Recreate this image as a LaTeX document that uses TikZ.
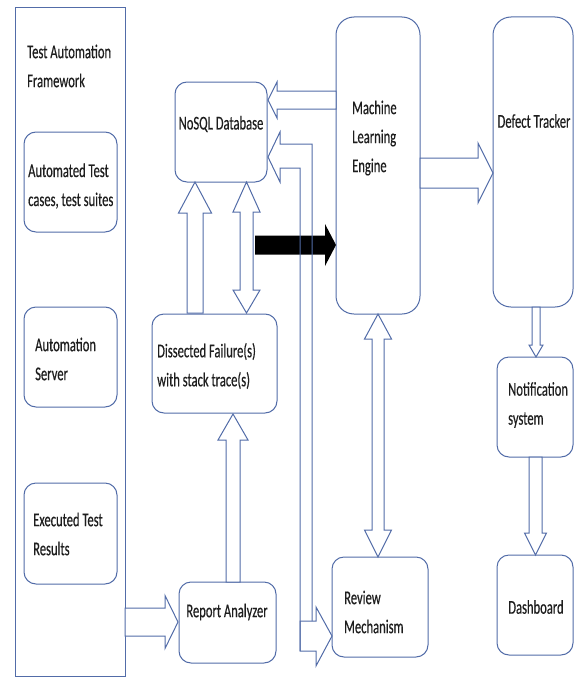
\documentclass[tikz,border=0pt]{standalone}
\usepackage{fontspec}
\setmainfont{Carlito}[FakeStretch=0.645, FakeBold=0.4]
\definecolor{ln}{RGB}{82,108,168}
\definecolor{tx}{RGB}{30,30,30}
\newcommand\blkH[6]{% tail x, base x, tip x, cy, shaft half, head half
  \draw[barrow] (#1,#4-#5) -- (#2,#4-#5) -- (#2,#4-#6) -- (#3,#4) -- (#2,#4+#6) -- (#2,#4+#5) -- (#1,#4+#5) -- cycle;}
\newcommand\blkV[6]{% tail y, base y, tip y, cx, shaft half, head half
  \draw[barrow] (#4-#5,#1) -- (#4-#5,#2) -- (#4-#6,#2) -- (#4,#3) -- (#4+#6,#2) -- (#4+#5,#2) -- (#4+#5,#1) -- cycle;}
\newcommand\blkVV[7]{% tip1 y, base1 y, base2 y, tip2 y, cx, shaft half, head half
  \draw[barrow] (#5,#1) -- (#5+#7,#2) -- (#5+#6,#2) -- (#5+#6,#3) -- (#5+#7,#3) -- (#5,#4) -- (#5-#7,#3) -- (#5-#6,#3) -- (#5-#6,#2) -- (#5-#7,#2) -- cycle;}
\tikzset{
  box/.style={draw=ln, line width=1pt, rounded corners=12pt, fill=white, inner sep=0pt},
  bigbox/.style={box, rounded corners=18pt},
  barrow/.style={draw=ln, line width=1pt, fill=white, line join=miter},
  bline/.style={draw=ln, line width=1pt, line join=miter},
  txt/.style={text=tx, align=left, inner sep=0pt},
}
\begin{document}
\begin{tikzpicture}[x=1pt,y=-1pt, font=\fontsize{19.5}{29}\selectfont]
\useasboundingbox (0,0) rectangle (576,677);
% framework
\node[draw=ln, line width=1pt, minimum width=110, minimum height=668, inner sep=0pt] (fw) at (70,342) {};
\node[txt, anchor=west] (fwt) at (27,66) {Test Automation\\Framework};
\node[box, minimum width=93, minimum height=100] (tc) at (70.5,182) {};
\node[txt, anchor=west] (tct) at (28,186) {Automated Test\\cases, test suites};
\node[box, minimum width=93, minimum height=100] (as) at (70.5,357) {};
\node[txt, anchor=west] (ast) at (35,359) {Automation\\Server};
\node[box, minimum width=93, minimum height=101] (ex) at (70.5,533.5) {};
\node[txt, anchor=west] (ext) at (33,534) {Executed Test\\Results};
% middle
\node[box, minimum width=92, minimum height=100] (db) at (221,132) {};
\node[txt] (dbt) at (221,124) {NoSQL Database};
\node[box, minimum width=125, minimum height=99] (df) at (214.5,363.5) {};
\node[txt, anchor=west] (dft) at (157,366) {Dissected Failure(s)\\with stack trace(s)};
\node[box, minimum width=97, minimum height=81] (ra) at (227.5,622.5) {};
\node[txt] (rat) at (227,612) {Report Analyzer};
\node[bigbox, minimum width=84, minimum height=297] (ml) at (378,165.5) {};
\node[txt, anchor=west] (mlt) at (352,138) {Machine\\Learning\\Engine};
\node[box, minimum width=96, minimum height=100] (rv) at (380,607) {};
\node[txt, anchor=west] (rvt) at (344,612) {Review\\Mechanism};
% right
\node[bigbox, minimum width=80, minimum height=290] (dt) at (533,162) {};
\node[txt] (dtt) at (534,121) {Defect Tracker};
\node[box, minimum width=76, minimum height=100] (ns) at (535,407) {};
\node[txt, anchor=west] (nst) at (508,405) {Notification\\system};
\node[box, minimum width=76, minimum height=100] (dash) at (535,605) {};
\node[txt] (dasht) at (536,607) {Dashboard};
% arrows
\blkH{125}{165}{178}{622}{14}{26.5}
\blkV{582}{440}{414}{233}{7}{15}
\blkV{313}{213}{182}{195}{8}{16.5}
\blkVV{182}{212}{290}{313}{246.5}{6.5}{13.5}
\fill[black] (255,235.5) -- (325,235.5) -- (325,224) -- (336,245) -- (325,266) -- (325,254.5) -- (255,254.5) -- cycle;
\blkH{336}{277}{268}{100}{9}{18}
\blkH{420}{478}{493}{173}{15}{30}
\blkVV{314}{339}{530}{557}{378}{6}{13.5}
\blkV{307}{345}{357}{536}{4}{7}
\blkV{457}{533}{555}{535.5}{6.5}{11}
% review arrow and elbow arrow into the database
\draw[barrow] (300,651) -- (300,621) -- (316,621) -- (316,607) -- (332,636) -- (316,666) -- (316,651) -- cycle;
\draw[bline] (300,651) -- (300,168) -- (280,168) -- (280,182) -- (268,157) -- (280,132) -- (280,144) -- (312,144) -- (312,621);
\end{tikzpicture}
\end{document}
